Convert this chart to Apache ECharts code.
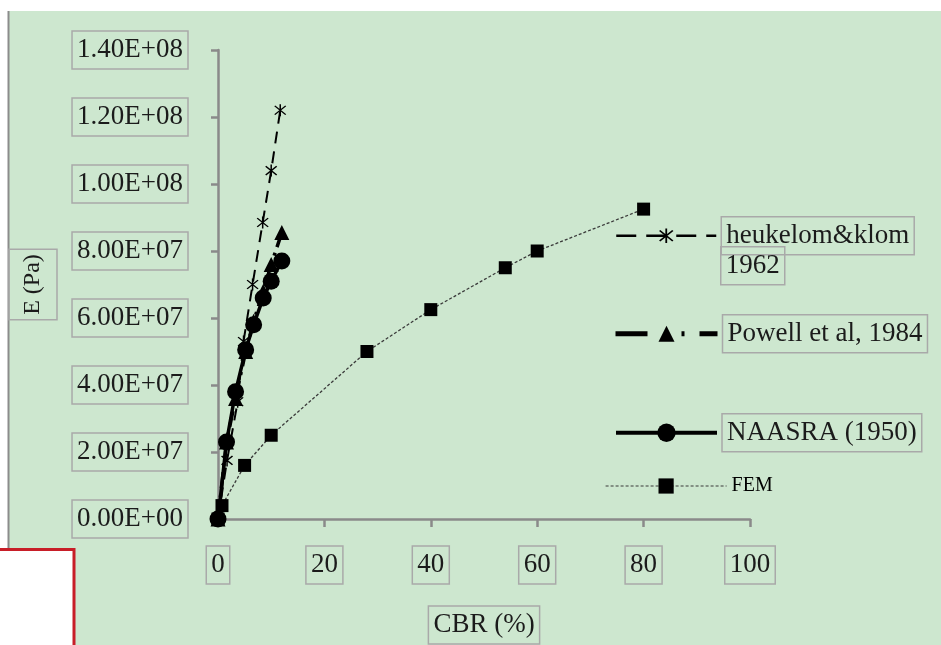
<!DOCTYPE html>
<html>
<head>
<meta charset="utf-8">
<script src="https://cdn.jsdelivr.net/npm/echarts@6/dist/echarts.min.js"></script>
<style>
html,body{margin:0;padding:0;background:#fff;}
#chart{width:941px;height:645px;}
</style>
</head>
<body>
<div id="chart"></div>
<script>
// ---- data (CBR %, E Pa) ----
const heukelomCBR = [0, 1.7, 3.7, 4.8, 6.5, 8.4, 10, 11.7];
const heukelomE   = [0, 1.75e7, 3.5e7, 5.3e7, 7.0e7, 8.85e7, 1.04e8, 1.22e8];
const powellCBR   = [0, 1.6, 3.3, 5.2, 6.7, 8.5, 10, 12];
const powellE     = [0, 2.3e7, 3.6e7, 5.0e7, 5.9e7, 6.8e7, 7.6e7, 8.55e7];
const naasraCBR   = [0, 1.6, 3.3, 5.2, 6.7, 8.5, 10, 12];
const naasraE     = [0, 2.3e7, 3.8e7, 5.05e7, 5.8e7, 6.6e7, 7.1e7, 7.7e7];
const femCBR      = [0, 0.75, 5, 10, 28, 40, 54, 60, 80];
const femE        = [0, 4.0e6, 1.6e7, 2.5e7, 5.0e7, 6.25e7, 7.5e7, 8.0e7, 9.25e7];
const seriesNames = ['heukelom&klom', 'Powell et al, 1984', 'NAASRA (1950)', 'FEM'];
const heukelomYearLabel = '1962';
const xAxisName = 'CBR (%)';
const yAxisName = 'E (Pa)';

const pairs = (xs, ys) => xs.map((x, i) => [x, ys[i]]);
function sci(v) {
  if (Math.abs(v) < 1e-9) return '0.00E+00';
  const e = Math.floor(Math.log10(Math.abs(v)) + 1e-9);
  const m = v / Math.pow(10, e);
  return m.toFixed(2) + 'E+' + String(e).padStart(2, '0');
}

const SERIF = '"Liberation Serif", "DejaVu Serif", serif';
const TXT = '#1b1b1b';
const BOX = '#a9a9a9';
const boxed = {
  fontFamily: SERIF, fontSize: 27, color: TXT, lineHeight: 28,
  borderColor: BOX, borderWidth: 1.5, padding: [5, 5]
};
const STAR = 'path://M9 0L11 0L11 20L9 20Z M2 3.4L3.4 2L18 16.6L16.6 18Z M16.6 2L18 3.4L3.4 18L2 16.6Z';

const chart = echarts.init(document.getElementById('chart'));
chart.setOption({
  backgroundColor: '#ffffff',
  animation: false,
  graphic: [
    { type: 'rect', z: -100, silent: true, shape: { x: 9, y: 11, width: 932, height: 634 }, style: { fill: '#cde7cf' } },
    { type: 'rect', z: -99, silent: true, shape: { x: 7.5, y: 11, width: 2, height: 538 }, style: { fill: '#8c8c8c' } },
    { type: 'rect', z: 50, silent: true, shape: { x: -2, y: 549.5, width: 76, height: 100 }, style: { fill: '#ffffff', stroke: '#c81e28', lineWidth: 3 } },
    { type: 'text', z: 50, silent: true, left: 720, top: 246,
      style: { text: heukelomYearLabel, font: '27px ' + SERIF, fill: TXT, borderColor: BOX, borderWidth: 1.5, padding: [5, 5], lineHeight: 28 } }
  ],
  grid: { left: 218, right: 191, top: 50, bottom: 126, containLabel: false, outerBoundsMode: 'none' },
  xAxis: {
    type: 'value', min: 0, max: 100, interval: 20,
    name: xAxisName, nameLocation: 'middle', nameGap: 87,
    nameTextStyle: boxed,
    axisLine: { onZero: false, lineStyle: { color: '#8a8a8a', width: 2.5 } },
    axisTick: { inside: false, length: 8, lineStyle: { color: '#8a8a8a', width: 2.5 } },
    axisLabel: { margin: 27, ...boxed },
    splitLine: { show: false }
  },
  yAxis: {
    type: 'value', min: 0, max: 1.4e8, interval: 2e7,
    name: yAxisName, nameLocation: 'middle', nameGap: 161,
    nameTextStyle: { ...boxed, fontSize: 24, padding: [10, 5] },
    axisLine: { show: true, onZero: false, lineStyle: { color: '#8a8a8a', width: 2.5 } },
    axisTick: { show: true, length: 7, lineStyle: { color: '#8a8a8a', width: 2.5 } },
    axisLabel: { margin: 30, formatter: sci, ...boxed },
    splitLine: { show: false }
  },
  legend: [
    { data: [seriesNames[0]], left: 615, top: 216, padding: 0, itemWidth: 100, itemHeight: 18, textStyle: boxed,
      lineStyle: { width: 2.5, type: [20, 10] } },
    { data: [seriesNames[1]], left: 613, top: 314, padding: 0, itemWidth: 102, itemHeight: 20, textStyle: boxed,
      lineStyle: { width: 5, type: [32, 34, 3, 15] } },
    { data: [seriesNames[2]], left: 614, top: 413, padding: 0, itemWidth: 101, itemHeight: 23, textStyle: boxed,
      lineStyle: { width: 4 } },
    { data: [seriesNames[3]], left: 605, top: 475, padding: 0, itemWidth: 121, itemHeight: 19,
      lineStyle: { width: 1.2 },
      textStyle: { fontFamily: SERIF, fontSize: 20, color: '#000', lineHeight: 22 } }
  ],
  series: [
    { name: seriesNames[3], type: 'line', data: pairs(femCBR, femE), z: 3,
      symbol: 'rect', symbolSize: 13,
      itemStyle: { color: '#000' },
      lineStyle: { color: '#3a3a3a', width: 1.3, type: [3, 2] } },
    { name: seriesNames[0], type: 'line', data: pairs(heukelomCBR, heukelomE), z: 4,
      symbol: STAR, symbolSize: 12,
      itemStyle: { color: '#000' },
      lineStyle: { color: '#000', width: 2, type: [12, 8] } },
    { name: seriesNames[1], type: 'line', data: pairs(powellCBR, powellE), z: 5,
      symbol: 'triangle', symbolSize: 15,
      itemStyle: { color: '#000' },
      lineStyle: { color: '#000', width: 3.5, type: [16, 6, 3, 6] } },
    { name: seriesNames[2], type: 'line', data: pairs(naasraCBR, naasraE), z: 6,
      symbol: 'circle', symbolSize: 17,
      itemStyle: { color: '#000' },
      lineStyle: { color: '#000', width: 3.5, type: 'solid' } }
  ]
});
</script>
</body>
</html>
